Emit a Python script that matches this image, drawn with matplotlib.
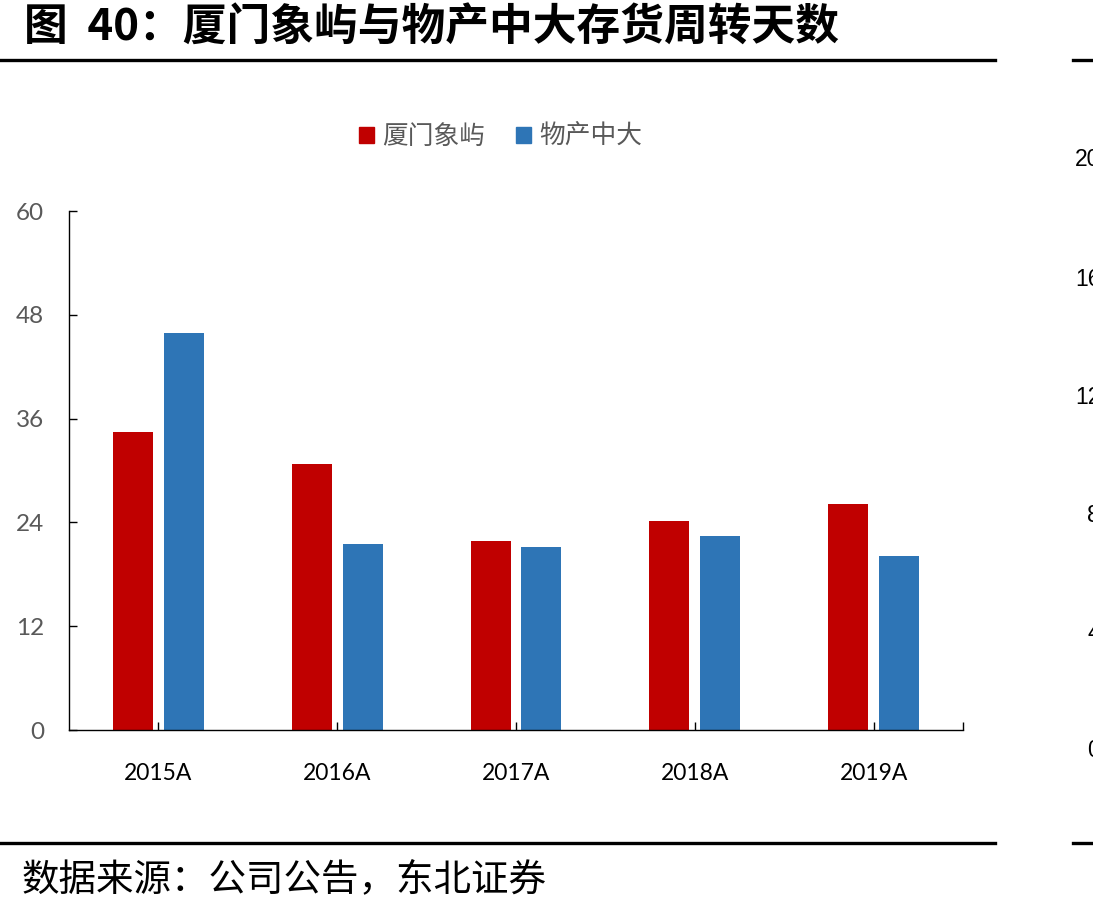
import matplotlib
matplotlib.use("Agg")
import matplotlib.pyplot as plt
import numpy as np
from matplotlib.lines import Line2D
from matplotlib.patches import Patch

plt.rcParams['font.family'] = ['Noto Sans CJK SC', 'DejaVu Sans']

categories = ['2015A', '2016A', '2017A', '2018A', '2019A']
xiamen = [34.4, 30.7, 21.9, 24.2, 26.1]
wuchan = [45.9, 21.5, 21.1, 22.4, 20.1]
yticks = [0, 12, 24, 36, 48, 60]
right_ticks = ['20', '16', '12', '8', '4', '0']

RED = '#C00000'
BLUE = '#2E75B6'
GREY = '#595959'
LAT = ['Lato', 'DejaVu Sans']

fig = plt.figure(figsize=(10.93, 9.13), dpi=100)
ax = fig.add_axes([69/1093, 1-730/913, (963-69)/1093, (730-211)/913])

x = np.arange(len(categories))
w = 0.223
off = 0.142
ax.bar(x - off, xiamen, width=w, color=RED, label='厦门象屿')
ax.bar(x + off, wuchan, width=w, color=BLUE, label='物产中大')

ax.set_xlim(-0.5, len(categories) - 0.5)
ax.set_ylim(0, 60)
ax.set_yticks(yticks)
ax.set_yticklabels([str(t) for t in yticks], fontfamily=LAT, fontsize=17.5, color=GREY)
ax.set_xticks(list(x) + [len(categories) - 0.5])
ax.set_xticklabels(categories + [''], fontfamily=LAT, fontsize=16.5, color='#000000')
for s in ['top', 'right']:
    ax.spines[s].set_visible(False)
for s in ['left', 'bottom']:
    ax.spines[s].set_linewidth(1.0)
    ax.spines[s].set_color('black')
ax.tick_params(axis='y', direction='in', length=6, width=1, pad=18)
ax.tick_params(axis='x', direction='in', length=5.5, width=1, pad=24)

handles = [Patch(color=RED), Patch(color=BLUE)]
fig.legend(handles, ['厦门象屿', '物产中大'], loc='center', bbox_to_anchor=(501/1093, 1-137/913),
           ncol=2, frameon=False, fontsize=18.5, handlelength=0.55, handleheight=0.55,
           handletextpad=0.35, columnspacing=1.2, labelcolor=GREY)

# title
fig.text(24/1093, 1-28/913, '图  40：厦门象屿与物产中大存货周转天数', fontsize=31.5, fontweight='bold',
         va='center', ha='left', color='black')
# rules
for yy in [60, 843]:
    fig.add_artist(Line2D([0, 995/1093], [1-yy/913, 1-yy/913], color='black', linewidth=2.4))
    fig.add_artist(Line2D([1073/1093, 1], [1-yy/913, 1-yy/913], color='black', linewidth=2.4))
# source
fig.text(22/1093, 1-880/913, '数据来源：公司公告，东北证券', fontsize=27, va='center', ha='left', color='black')

# partial neighbouring chart labels
ys = [160, 279, 397, 515, 633, 750]
for lab, yy in zip(right_ticks, ys):
    xx = 1075 if len(lab) == 2 else 1087
    fig.text(xx/1093, 1-yy/913, lab, fontsize=16.5, fontfamily=['Liberation Sans', 'DejaVu Sans'],
             va='center', ha='left', color='black')

fig.savefig('out.png', dpi=100)
